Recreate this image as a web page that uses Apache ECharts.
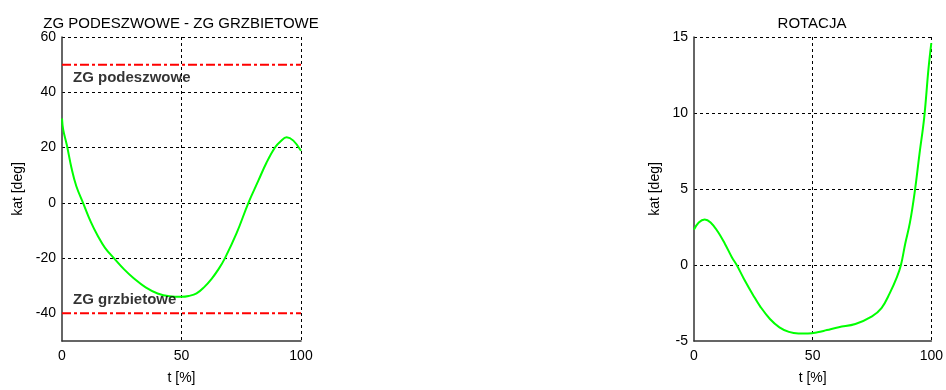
<!DOCTYPE html>
<html>
<head>
<meta charset="utf-8">
<script src="https://cdn.jsdelivr.net/npm/echarts@6/dist/echarts.min.js"></script>
<style>
html,body{margin:0;padding:0;background:#fff;}
#c{width:946px;height:390px;}
</style>
</head>
<body>
<div id="c"></div>
<script>
// Left panel: ZG PODESZWOWE - ZG GRZBIETOWE
var tLeft = [0, 0.5, 2, 4, 6, 8.8, 12, 15, 18, 22, 26, 30, 35, 40, 45, 50, 53, 56.3, 59.5, 62.6, 65.5, 68.2, 73.1, 78, 82.2, 85.6, 89.1, 91.5, 94, 96.8, 100];
var vLeft = [30.5, 26.5, 21, 12.5, 6, 0, -6.8, -12, -16.3, -20.3, -24.1, -27.3, -30.6, -32.8, -33.8, -34, -33.7, -32.8, -30.5, -27.5, -24, -20, -10.9, 0, 8.1, 14.6, 20, 22.3, 23.7, 22.5, 18.8];
var limitUpper = 50;   // ZG podeszwowe
var limitLower = -40;  // ZG grzbietowe
var annoText = ['ZG podeszwowe', 'ZG grzbietowe'];
var annoX = [4.6, 4.6];
var annoY = [45.2, -35.2];

// Right panel: ROTACJA
var tRight = [0, 2, 4.5, 7, 10, 13, 16, 18, 21, 25, 28, 32, 36, 40, 44, 48, 52, 56, 61, 68, 75, 79, 82.5, 85.5, 87.2, 89, 91, 93, 95, 97, 98.8, 100];
var vRight = [2.33, 2.8, 3.0, 2.8, 2.2, 1.4, 0.5, 0, -0.9, -2.0, -2.75, -3.55, -4.1, -4.4, -4.5, -4.5, -4.43, -4.28, -4.09, -3.88, -3.38, -2.84, -1.85, -0.8, 0, 1.4, 2.8, 4.8, 7.3, 9.7, 12.9, 14.6];

// Axis settings
var xTicks = {min: 0, max: 100, interval: 50};
var yLeftRange = {min: -50, max: 60};
var yLeftTickValues = [-40, -20, 0, 20, 40, 60];
var yRightTicks = {min: -5, max: 15, interval: 5};

var titles = ['ZG PODESZWOWE - ZG GRZBIETOWE', 'ROTACJA'];
var xName = 't [%]';
var yName = 'kat [deg]';

function zip(a, b) { return a.map(function (v, i) { return [v, b[i]]; }); }

var FONT = 'Liberation Sans';
var gridLine = {show: true, showMinLine: false, lineStyle: {color: '#000', type: [3, 3], width: 1}};
var axisLineStyle = {show: true, onZero: false, lineStyle: {color: '#333', width: 1.5}};

function xAxis(idx) {
  return {
    type: 'value', gridIndex: idx, min: xTicks.min, max: xTicks.max, interval: xTicks.interval,
    name: xName, nameLocation: 'middle', nameGap: 30,
    nameTextStyle: {fontFamily: FONT, fontSize: 14, color: '#000'},
    axisLine: axisLineStyle,
    axisTick: {show: false},
    axisLabel: {fontFamily: FONT, fontSize: 14, color: '#000', margin: 8},
    splitLine: gridLine
  };
}

var chart = echarts.init(document.getElementById('c'), null, {renderer: 'canvas'});
chart.setOption({
  animation: false,
  backgroundColor: '#fff',
  title: [
    {text: titles[0], left: 176, top: 11, textAlign: 'center',
     textStyle: {fontFamily: FONT, fontSize: 15, fontWeight: 'normal', color: '#000'}},
    {text: titles[1], left: 807, top: 11, textAlign: 'center',
     textStyle: {fontFamily: FONT, fontSize: 15, fontWeight: 'normal', color: '#000'}}
  ],
  grid: [
    {left: 62, top: 37, width: 239, height: 309},
    {left: 694, top: 37, width: 239, height: 309}
  ],
  xAxis: [xAxis(0), xAxis(1)],
  yAxis: [
    {
      type: 'value', gridIndex: 0, min: yLeftRange.min, max: yLeftRange.max,
      name: yName, nameLocation: 'middle', nameGap: 37,
      nameTextStyle: {fontFamily: FONT, fontSize: 14, color: '#000'},
      axisLine: axisLineStyle,
      axisTick: {show: false, customValues: yLeftTickValues},
      axisLabel: {fontFamily: FONT, fontSize: 14, color: '#000', margin: 6, customValues: yLeftTickValues},
      splitLine: gridLine
    },
    {
      type: 'value', gridIndex: 1, min: yRightTicks.min, max: yRightTicks.max, interval: yRightTicks.interval,
      name: yName, nameLocation: 'middle', nameGap: 32,
      nameTextStyle: {fontFamily: FONT, fontSize: 14, color: '#000'},
      axisLine: axisLineStyle,
      axisTick: {show: false},
      axisLabel: {fontFamily: FONT, fontSize: 14, color: '#000', margin: 6},
      splitLine: gridLine
    }
  ],
  series: [
    {type: 'line', xAxisIndex: 0, yAxisIndex: 0, symbol: 'none',
     data: [[xTicks.min, limitUpper], [xTicks.max, limitUpper]],
     lineStyle: {color: '#ff0000', width: 2, type: [9, 3, 3, 3]}},
    {type: 'line', xAxisIndex: 0, yAxisIndex: 0, symbol: 'none',
     data: [[xTicks.min, limitLower], [xTicks.max, limitLower]],
     lineStyle: {color: '#ff0000', width: 2, type: [9, 3, 3, 3]}},
    {type: 'line', xAxisIndex: 0, yAxisIndex: 0, symbol: 'none', smooth: 0.4,
     data: zip(tLeft, vLeft), lineStyle: {color: '#00ff00', width: 2}},
    {type: 'scatter', xAxisIndex: 0, yAxisIndex: 0, symbolSize: 0,
     data: zip(annoX, annoY).map(function (p, i) { return {value: p, name: annoText[i]}; }),
     label: {show: true, position: 'right', distance: 0, formatter: '{b}',
             fontFamily: FONT, fontSize: 15, fontWeight: 'bold', color: '#000'},
     z: 10},
    {type: 'line', xAxisIndex: 1, yAxisIndex: 1, symbol: 'none', smooth: 0.4,
     data: zip(tRight, vRight), lineStyle: {color: '#00ff00', width: 2}}
  ]
});
</script>
</body>
</html>
